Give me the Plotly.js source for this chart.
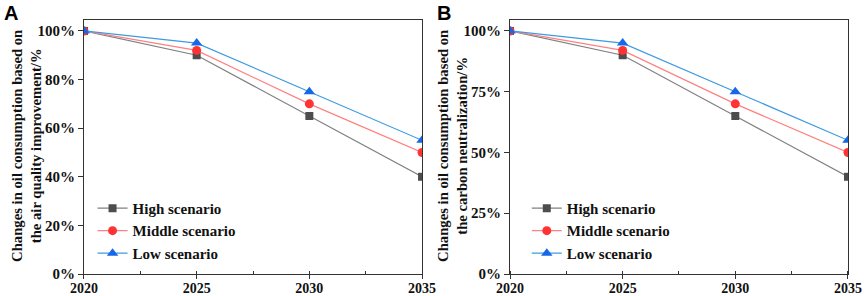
<!DOCTYPE html>
<html>
<head>
<meta charset="utf-8">
<script src="https://cdn.plot.ly/plotly-3.0.1.min.js"></script>
<style>html,body{margin:0;padding:0;background:#fff}#chart{width:865px;height:296px}</style>
</head>
<body>
<div id="chart"></div>
<script>
const years = [2020, 2025, 2030, 2035];
const yearLabels = ["2020", "2025", "2030", "2035"];
const seriesNames = ["High scenario", "Middle scenario", "Low scenario"];
const highA = [100, 90, 65, 40];
const middleA = [100, 92, 70, 50];
const lowA = [100, 95, 75, 55];
const highB = [100, 90, 65, 40];
const middleB = [100, 92, 70, 50];
const lowB = [100, 95, 75, 55];
const yTicksA = [0, 20, 40, 60, 80, 100];
const yTickTextA = ["0%", "20%", "40%", "60%", "80%", "100%"];
const yTicksB = [0, 25, 50, 75, 100];
const yTickTextB = ["0%", "25%", "50%", "75%", "100%"];
const yTitleA = "Changes in oil consumption based on<br>the air quality improvement/%";
const yTitleB = "Changes in oil consumption based on<br>the carbon neutralization/%";

const lineColors = ["#808080", "#ff8080", "#3d9be0"];
const markerColors = ["#4d4d4d", "#ff3333", "#1668e8"];
const symbols = ["square", "circle", "triangle-up"];
const sizes = [8, 9, 10];

function mk(y, i, xa, ya, leg) {
  return {
    x: years, y: y, name: seriesNames[i], type: "scatter", mode: "lines+markers",
    xaxis: xa, yaxis: ya, legend: leg,
    line: {color: lineColors[i], width: 1.2},
    marker: {color: markerColors[i], symbol: symbols[i], size: sizes[i]},
    cliponaxis: true
  };
}
const data = [
  mk(highA, 0, "x", "y", "legend"), mk(middleA, 1, "x", "y", "legend"), mk(lowA, 2, "x", "y", "legend"),
  mk(highB, 0, "x2", "y2", "legend2"), mk(middleB, 1, "x2", "y2", "legend2"), mk(lowB, 2, "x2", "y2", "legend2")
];

const serif = "Liberation Serif, Times New Roman, serif";
const tf = {family: serif, size: 15, color: "#111", weight: "bold"};
const xtf = {family: serif, size: 14, color: "#111", weight: "bold"};
const titleFont = {family: serif, size: 14.7, color: "#111", weight: "bold"};
const legFont = {family: serif, size: 15, color: "#111", weight: "bold"};
function xax(dom, anchor) {
  return {
    domain: dom, anchor: anchor, range: [2020, 2035], tickmode: "array", tickvals: years, ticktext: yearLabels,
    showline: true, linecolor: "#333", linewidth: 1, mirror: true,
    ticks: "outside", ticklen: 4, tickcolor: "#333", showgrid: false, zeroline: false,
    tickfont: xtf, ticklabelstandoff: -3,
    minor: {ticks: "inside", ticklen: 3, dtick: 2.5, tick0: 2020, tickcolor: "#333", showgrid: false}
  };
}
function yax(anchor, vals, texts) {
  return {
    domain: [0.0743, 0.9324], anchor: anchor, range: [0, 104.5], tickmode: "array", tickvals: vals, ticktext: texts,
    showline: true, linecolor: "#333", linewidth: 1, mirror: true,
    ticks: "outside", ticklen: 5, tickcolor: "#333", showgrid: false, zeroline: false,
    tickfont: tf
  };
}
function ytitle(text, xpx) {
  return {text: text, x: xpx / 865, y: 0.507, xref: "paper", yref: "paper", xanchor: "center", yanchor: "middle",
    textangle: -90, showarrow: false, font: titleFont, align: "center"};
}
const layout = {
  width: 865, height: 296,
  margin: {l: 0, r: 0, t: 0, b: 0},
  paper_bgcolor: "#fff", plot_bgcolor: "#fff",
  font: {family: serif},
  showlegend: true,
  xaxis: xax([0.0971, 0.4879], "y"),
  yaxis: yax("x", yTicksA, yTickTextA),
  xaxis2: xax([0.5896, 0.9803], "y2"),
  yaxis2: yax("x2", yTicksB, yTickTextB),
  legend: {x: 0.107, y: 0.22, xanchor: "left", yanchor: "middle", bgcolor: "rgba(0,0,0,0)", font: legFont, tracegroupgap: 0},
  legend2: {x: 0.609, y: 0.22, xanchor: "left", yanchor: "middle", bgcolor: "rgba(0,0,0,0)", font: legFont, tracegroupgap: 0},
  annotations: [
    ytitle(yTitleA, 27),
    ytitle(yTitleB, 453),
    {text: "<b>A</b>", x: 0.002, y: 1.0, xref: "paper", yref: "paper", xanchor: "left", yanchor: "top", showarrow: false, font: {family: "Liberation Sans, Arial, sans-serif", size: 20, color: "#000"}},
    {text: "<b>B</b>", x: 0.503, y: 1.0, xref: "paper", yref: "paper", xanchor: "left", yanchor: "top", showarrow: false, font: {family: "Liberation Sans, Arial, sans-serif", size: 20, color: "#000"}}
  ]
};
Plotly.newPlot("chart", data, layout, {staticPlot: true});
</script>
</body>
</html>
